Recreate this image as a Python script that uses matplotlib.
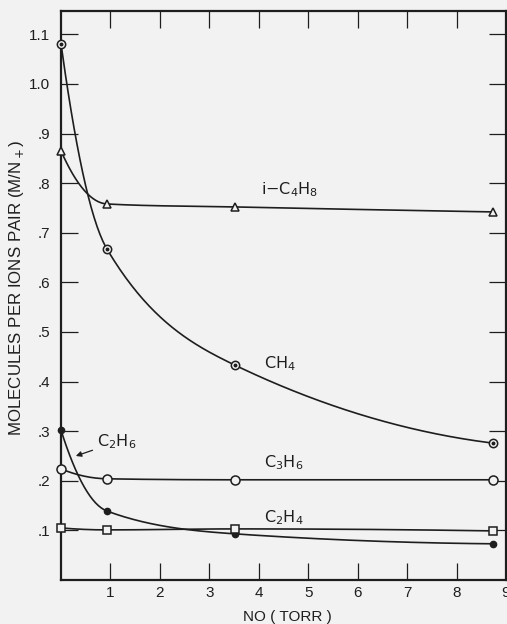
import numpy as np
import matplotlib
matplotlib.use("Agg")
import matplotlib.pyplot as plt

# ---- data ----
x_no = [0.0, 0.93, 3.52, 8.73]
ch4 = [1.081, 0.667, 0.433, 0.276]
ic4h8 = [0.865, 0.758, 0.752, 0.742]
c3h6 = [0.224, 0.204, 0.202, 0.202]
c2h6 = [0.302, 0.139, 0.093, 0.073]
c2h4 = [0.105, 0.101, 0.103, 0.099]

xticks = [1, 2, 3, 4, 5, 6, 7, 8, 9]
xticklabels = ["1", "2", "3", "4", "5", "6", "7", "8", "9"]
yticks = [0.1, 0.2, 0.3, 0.4, 0.5, 0.6, 0.7, 0.8, 0.9, 1.0, 1.1]
yticklabels = [".1", ".2", ".3", ".4", ".5", ".6", ".7", ".8", ".9", "1.0", "1.1"]

BG = "#f2f2f2"
INK = "#1e1e1e"
FONT = "Liberation Sans"
plt.rcParams["font.family"] = [FONT, "DejaVu Sans"]
plt.rcParams["mathtext.fontset"] = "dejavusans"


def smooth_curve(xs, ys, n=300):
    """Monotone cubic Hermite curve through the points (only for the drawn line)."""
    xs = np.asarray(xs, float)
    ys = np.asarray(ys, float)
    h = np.diff(xs)
    d = np.diff(ys) / h
    m = np.zeros_like(ys)
    for k in range(1, len(xs) - 1):
        if d[k - 1] * d[k] <= 0:
            m[k] = 0.0
        else:
            w1 = 2 * h[k] + h[k - 1]
            w2 = h[k] + 2 * h[k - 1]
            m[k] = (w1 + w2) / (w1 / d[k - 1] + w2 / d[k])
    m[0] = 2 * d[0] - m[1]
    if m[0] * d[0] < 0:
        m[0] = 0.0
    m[-1] = 2 * d[-1] - m[-2]
    if m[-1] * d[-1] < 0:
        m[-1] = 0.0
    xx = np.linspace(xs[0], xs[-1], n)
    yy = np.empty_like(xx)
    for i, xv in enumerate(xx):
        k = min(np.searchsorted(xs, xv, side="right") - 1, len(xs) - 2)
        t = (xv - xs[k]) / h[k]
        h00 = 2 * t**3 - 3 * t**2 + 1
        h10 = t**3 - 2 * t**2 + t
        h01 = -2 * t**3 + 3 * t**2
        h11 = t**3 - t**2
        yy[i] = h00 * ys[k] + h10 * h[k] * m[k] + h01 * ys[k + 1] + h11 * h[k] * m[k + 1]
    return xx, yy


fig = plt.figure(figsize=(5.07, 6.24), dpi=100, facecolor=BG)
ax = fig.add_axes([61 / 507, 44 / 624, 445 / 507, 569 / 624], facecolor=BG)

series = [
    (ch4, dict(marker="o", ms=6, mfc=BG, mec=INK, mew=1.1), True),
    (ic4h8, dict(marker="^", ms=6, mfc=BG, mec=INK, mew=1.1), False),
    (c3h6, dict(marker="o", ms=6.5, mfc=BG, mec=INK, mew=1.1), False),
    (c2h6, dict(marker="o", ms=4.5, mfc=INK, mec=INK, mew=1.0), False),
    (c2h4, dict(marker="s", ms=5.5, mfc=BG, mec=INK, mew=1.1), False),
]
for ys, mk, dotted in series:
    xx, yy = smooth_curve(x_no, ys)
    ax.plot(xx, yy, color=INK, lw=1.2, zorder=3, clip_on=False)
    ax.plot(x_no, ys, ls="none", zorder=5, clip_on=False, **mk)
    if dotted:
        ax.plot(x_no, ys, ls="none", marker="o", ms=1.8, mfc=INK, mec=INK,
                zorder=6, clip_on=False)

CHEM = dict(fontsize=11.5, va="center", ha="left", color=INK, family="DejaVu Sans")
ax.text(4.05, 0.786, r"i$-$C$_4$H$_8$", **CHEM)
ax.text(4.1, 0.437, r"CH$_4$", **CHEM)
ax.text(4.1, 0.236, r"C$_3$H$_6$", **CHEM)
ax.text(4.1, 0.126, r"C$_2$H$_4$", **CHEM)
ax.annotate(r"C$_2$H$_6$", xy=(0.3, 0.25), xytext=(0.72, 0.278),
            arrowprops=dict(arrowstyle="-|>", color=INK, lw=0.9,
                            mutation_scale=8, shrinkA=1, shrinkB=0), **CHEM)

ax.set_xlim(0, 9)
ax.set_ylim(0, 1.147)
ax.set_xticks(xticks)
ax.set_xticklabels(xticklabels)
ax.set_yticks(yticks)
ax.set_yticklabels(yticklabels)
ax.tick_params(axis="both", direction="in", length=12.5, width=0.9, color=INK,
               labelcolor=INK, labelsize=11, top=True, right=True)
ax.tick_params(axis="y", pad=8)
ax.tick_params(axis="x", pad=4)
for s in ax.spines.values():
    s.set_linewidth(1.6)
    s.set_color(INK)
    s.set_zorder(2)

fig.text(287 / 507, 1 - 617 / 624, "NO ( TORR )", fontsize=11, color=INK,
         ha="center", va="center")
fig.text(17 / 507, 1 - 288 / 624, r"MOLECULES PER IONS PAIR (M/N$_+$)", fontsize=12.2,
         color=INK, ha="center", va="center", rotation=90)

fig.savefig("out.png", dpi=100, facecolor=BG)
